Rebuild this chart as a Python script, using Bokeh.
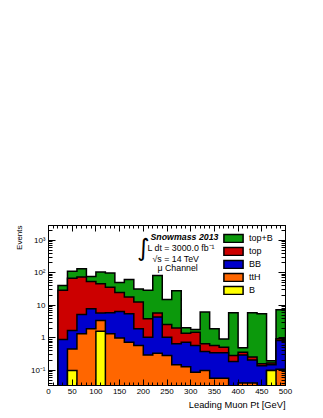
import numpy as np
from bokeh.plotting import figure
from bokeh.models import (Label, Legend, LegendItem, LogAxis, LinearAxis,
                          FixedTicker, Range1d, Title)
from bokeh.embed import file_html
from bokeh.resources import INLINE

# ---- data (per-series contributions, 20 GeV bins from 0 to 500) ----
bin_edges = list(range(0, 520, 20))
B    = [0, 0, 0.1, 0, 0, 1.6, 0, 0, 0, 0, 0, 0, 0, 0, 0, 0, 0, 0, 0, 0, 0, 0, 0, 0.1, 0]
ttH  = [0, 0, 0.36, 1.35, 1.9, 1.8, 1.35, 1.0, 0.74, 0.59, 0.3, 0.34, 0.29, 0.15, 0.13,
        0.089, 0.1, 0.058, 0.058, 0, 0.041, 0.041, 0, 0, 0.11]
BB   = [0, 0.9, 1.24, 3.85, 5.9, 2.4, 4.55, 5.5, 4.76, 1.31, 0.75, 4.06, 0.76, 0.51, 0.61,
        0.5, 0.28, 0.29, 0.29, 0.19, 0.26, 0.17, 0.14, 0.05, 0.72]
top  = [0, 28.1, 66.3, 68.8, 46.2, 40.2, 30.1, 18.5, 12.5, 10.7, 2.85, 1.4, 1.55, 1.34, 0.66,
        0.91, 0.28, 0.24, 0.17, 0.1, 0.06, 0.05, 0.02, 0.02, 0.12]
topB = [0, 12, 44, 58, 23, 59, 62, 25, 44, 19.4, 25.1, 77.2, 12.4, 26, 0.65,
        0.3, 5.54, 1.31, 0.41, 5.61, 0.14, 5.64, 5.34, 0.03, 6.35]

series_names  = ["B", "ttH", "BB", "top", "top+B"]      # stacking order (bottom first)
series_values = [B, ttH, BB, top, topB]
series_colors = ["#ffff00", "#ff6600", "#0000cc", "#cc0000", "#0c990c"]
legend_order  = ["top+B", "top", "BB", "ttH", "B"]

x_ticks = list(range(0, 550, 50))
y_ticks = [0.1, 1, 10, 100, 1000]
y_tick_labels = ["10\u207b\u00b9", "1", "10", "10\u00b2", "10\u00b3"]

YMIN, YMAX = 0.0346, 2830.0
FLOOR = 1e-3
FONT = "Liberation Sans"

p = figure(width=315, height=410, y_axis_type="log", output_backend="svg",
           toolbar_location=None, x_range=Range1d(0, 500), y_range=Range1d(YMIN, YMAX),
           min_border_left=48, min_border_right=30, min_border_top=225, min_border_bottom=25)
p.xgrid.visible = False
p.ygrid.visible = False
p.outline_line_color = "black"
p.outline_line_width = 1
p.background_fill_color = "white"
p.border_fill_color = "white"

edges = np.array(bin_edges, dtype=float)
cum = np.cumsum(np.array(series_values, dtype=float), axis=0)

renderers = {}
for idx in range(len(series_names) - 1, -1, -1):
    c = cum[idx].copy()
    c = np.where(c > 0, c, FLOOR)
    xs = np.repeat(edges, 2)[1:-1]
    ys = np.repeat(c, 2)
    xs = np.concatenate([xs, [edges[-1], edges[0]]])
    ys = np.concatenate([ys, [FLOOR, FLOOR]])
    r = p.patch(xs, ys, fill_color=series_colors[idx], line_color="black",
                line_width=1.5, line_join="miter")
    renderers[series_names[idx]] = r

# ---- axes ----
minor_y = [m * 10.0 ** e for e in range(-2, 4) for m in range(2, 10)]
minor_x = [v for v in range(0, 510, 10)]

def style_axis(ax, major_in, minor_in, show_labels):
    ax.major_tick_in = major_in
    ax.major_tick_out = 0
    ax.minor_tick_in = minor_in
    ax.minor_tick_out = 0
    ax.axis_line_color = "black"
    ax.major_tick_line_color = "black"
    ax.minor_tick_line_color = "black"
    ax.major_label_text_font = FONT
    ax.major_label_text_font_size = "8px"
    ax.major_label_text_color = "black" if show_labels else None
    ax.major_label_standoff = 3

yl = p.yaxis[0]
yl.ticker = FixedTicker(ticks=y_ticks, minor_ticks=minor_y)
yl.major_label_overrides = {t: s for t, s in zip(y_ticks, y_tick_labels)}
style_axis(yl, 7, 4, True)

xb = p.xaxis[0]
xb.ticker = FixedTicker(ticks=x_ticks, minor_ticks=minor_x)
style_axis(xb, 6, 3, True)

yr = LogAxis(ticker=FixedTicker(ticks=y_ticks, minor_ticks=minor_y))
style_axis(yr, 7, 4, False)
p.add_layout(yr, "right")

xt = LinearAxis(ticker=FixedTicker(ticks=x_ticks, minor_ticks=minor_x))
style_axis(xt, 6, 3, False)
p.add_layout(xt, "above")

# ---- axis titles ----
p.add_layout(Title(text="Leading Muon Pt [GeV]", align="right", text_font=FONT,
                   text_font_size="9.3px", text_font_style="normal", text_color="black",
                   standoff=2, offset=0), "below")
p.add_layout(Title(text="Events", align="right", text_font=FONT,
                   text_font_size="8px", text_font_style="normal", text_color="black",
                   standoff=8, offset=0), "left")

# ---- annotation texts ----
def note(text, dx, dy, size="8.8px", style="normal", font=FONT, align="left"):
    p.add_layout(Label(x=0, y=YMAX, x_offset=dx, y_offset=dy, text=text,
                       text_align=align, text_baseline="middle", text_font_style=style,
                       text_font=font, text_font_size=size, text_color="black"))

note("\u222b", 95, -22, size="24px", font="DejaVu Sans", align="center")
note("Snowmass 2013", 102, -11, style="bold italic")
note("L dt = 3000.0 fb\u207b\u00b9", 99, -22)
note("\u221as = 14 TeV", 104, -33)
note("\u03bc Channel", 109, -42)

# ---- legend ----
items = [LegendItem(label=name, renderers=[renderers[name]]) for name in legend_order]
legend = Legend(items=items, location=(173, 90), orientation="vertical",
                glyph_width=24, glyph_height=10, label_height=10, label_width=20,
                spacing=3, padding=0, margin=0, label_standoff=4,
                border_line_color=None, background_fill_alpha=0,
                label_text_font=FONT, label_text_font_size="9px",
                label_text_color="black")
p.add_layout(legend, "center")

open("out.html", "w").write(file_html(p, INLINE))
